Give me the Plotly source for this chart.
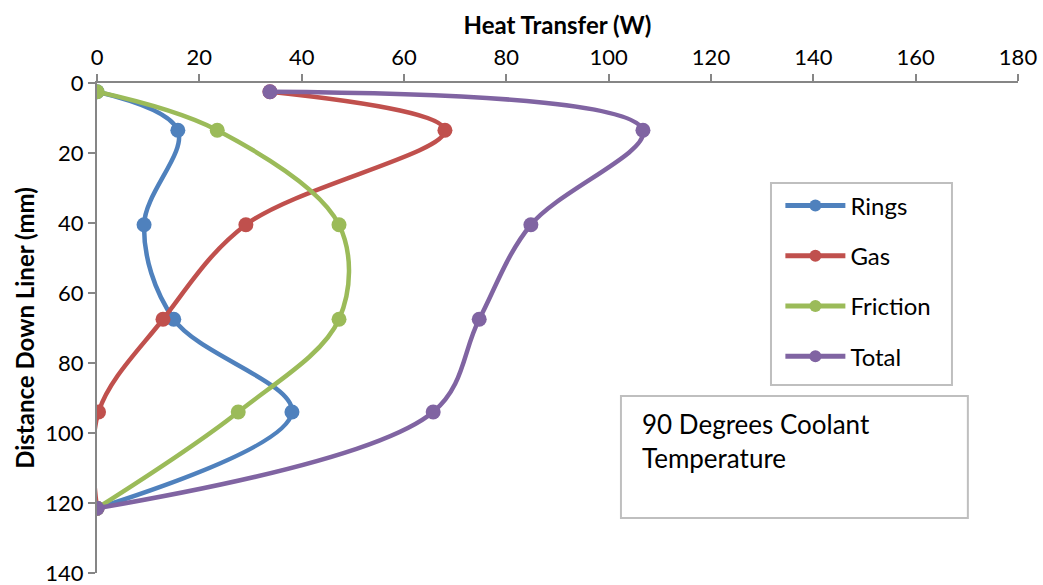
import plotly.graph_objects as go

distance = [2.5, 13.5, 40.5, 67.5, 94, 121.5]
rings = [0, 15.8, 9.2, 15.0, 38.1, 0]
gas = [33.8, 68.0, 29.1, 12.9, 0.3, 0]
friction = [0, 23.5, 47.3, 47.3, 27.6, 0]
total = [33.8, 106.7, 84.8, 74.7, 65.7, 0]

series = [("Rings", rings, "#4F81BD"), ("Gas", gas, "#C0504D"),
          ("Friction", friction, "#9BBB59"), ("Total", total, "#8064A2")]

FONT = "Lato"
fig = go.Figure()
for name, vals, col in series:
    fig.add_trace(go.Scatter(
        x=vals, y=distance, name=name, mode="lines+markers",
        line=dict(color=col, width=4.5, shape="spline", smoothing=1.0),
        marker=dict(color=col, size=15),
        legendgroup=name,
    ))

fig.update_layout(
    width=1043, height=585,
    margin=dict(l=97, r=25, t=83, b=12),
    plot_bgcolor="white", paper_bgcolor="white",
    font=dict(family=FONT, size=22, color="black"),
    showlegend=True,
    legend=dict(x=0.742, y=0.795, xanchor="left", yanchor="top",
                borderwidth=0, bgcolor="rgba(0,0,0,0)",
                font=dict(size=24), tracegroupgap=16, itemwidth=60,
                itemsizing="constant"),
    xaxis=dict(side="top", range=[0, 180], dtick=20, showgrid=False, automargin=False,
               zeroline=False, showline=True, linecolor="#868686", linewidth=2,
               ticks="outside", ticklen=7, tickcolor="#868686", tickwidth=2,
               tickfont=dict(size=22), ticklabeloverflow="allow",
               title=dict(text="<b>Heat Transfer (W)</b>", font=dict(size=24), standoff=2)),
    yaxis=dict(range=[140, 0], dtick=20, showgrid=False, zeroline=False, automargin=False,
               showline=True, linecolor="#868686", linewidth=2,
               ticks="outside", ticklen=7, tickcolor="#868686", tickwidth=2,
               tickfont=dict(size=22), ticklabeloverflow="allow",
               title=dict(text="<b>Distance Down Liner (mm)</b>", font=dict(size=24), standoff=4)),
)

# legend frame
fig.add_shape(type="rect", xref="paper", yref="paper", x0=0.7318, x1=0.9283, y0=0.3837, y1=0.7959,
              line=dict(color="#BFBFBF", width=2), fillcolor="white", layer="above")

fig.add_shape(type="rect", xref="x", yref="y", x0=102.4, x1=170.2, y0=89.4, y1=124.3,
              line=dict(color="#BFBFBF", width=2), fillcolor="white", layer="above")
fig.add_annotation(xref="x", yref="y", x=106.1, y=92.2, xanchor="left", yanchor="top",
                   text="90 Degrees Coolant<br>Temperature", showarrow=False, align="left",
                   font=dict(family=FONT, size=26, color="black"))

fig.write_html("out.html")
